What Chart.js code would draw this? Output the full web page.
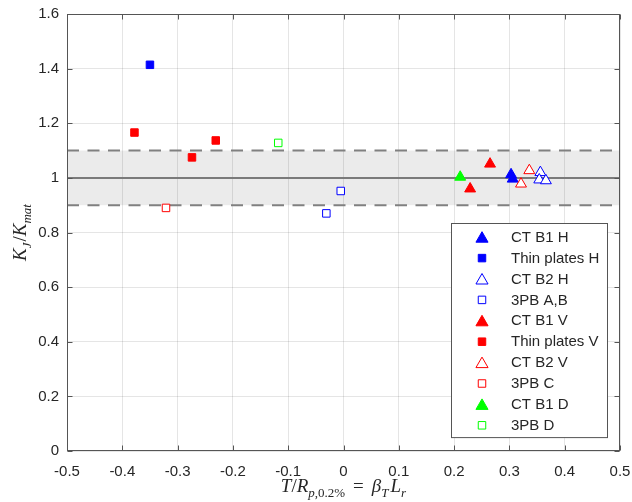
<!DOCTYPE html>
<html>
<head>
<meta charset="utf-8">
<script src="https://cdn.jsdelivr.net/npm/chart.js@4.4.0/dist/chart.umd.min.js"></script>
<style>
  html, body { margin: 0; padding: 0; background: #fff; }
  #wrap { position: relative; width: 632px; height: 502px; }
</style>
</head>
<body>
<div id="wrap"><canvas id="chart" width="632" height="502"></canvas></div>
<script>
// axis ticks
const xTicks = [-0.5, -0.4, -0.3, -0.2, -0.1, 0, 0.1, 0.2, 0.3, 0.4, 0.5];
const yTicks = [0, 0.2, 0.4, 0.6, 0.8, 1, 1.2, 1.4, 1.6];

// +/-10% band around 1
const bandLow = 0.9;
const bandHigh = 1.1;
const refValue = 1;

// series (T/Rp0.2 , KJ/Kmat)
const ctB1H_x = [0.303, 0.306];
const ctB1H_y = [1.012, 0.996];
const thinH_x = [-0.350];
const thinH_y = [1.414];
const ctB2H_x = [0.356, 0.354, 0.366];
const ctB2H_y = [1.020, 0.993, 0.990];
const pbAB_x = [-0.005, -0.031];
const pbAB_y = [0.952, 0.870];
const ctB1V_x = [0.265, 0.229];
const ctB1V_y = [1.051, 0.960];
const thinV_x = [-0.378, -0.274, -0.231];
const thinV_y = [1.166, 1.075, 1.137];
const ctB2V_x = [0.336, 0.321];
const ctB2V_y = [1.027, 0.978];
const pbC_x = [-0.321];
const pbC_y = [0.890];
const ctB1D_x = [0.211];
const ctB1D_y = [1.003];
const pbD_x = [-0.118];
const pbD_y = [1.128];

const seriesNames = ['CT B1 H', 'Thin plates H', 'CT B2 H', '3PB A,B', 'CT B1 V',
  'Thin plates V', 'CT B2 V', '3PB C', 'CT B1 D', '3PB D'];
const seriesX = [ctB1H_x, thinH_x, ctB2H_x, pbAB_x, ctB1V_x, thinV_x, ctB2V_x, pbC_x, ctB1D_x, pbD_x];
const seriesY = [ctB1H_y, thinH_y, ctB2H_y, pbAB_y, ctB1V_y, thinV_y, ctB2V_y, pbC_y, ctB1D_y, pbD_y];

// marker styles
const colors = ['#0000ff', '#0000ff', '#0000ff', '#0000ff', '#ff0000', '#ff0000', '#ff0000', '#ff0000', '#00ff00', '#00ff00'];
const shapes = ['triangle', 'rect', 'triangle', 'rect', 'triangle', 'rect', 'triangle', 'rect', 'triangle', 'rect'];
const filled = [true, true, false, false, true, true, false, false, true, false];

const AXIS = '#555555';
const TEXT = '#262626';

Chart.defaults.font.family = "'Liberation Sans', Arial, sans-serif";
Chart.defaults.font.size = 15;
Chart.defaults.color = TEXT;

const datasets = seriesNames.map((name, i) => ({
  label: name,
  data: seriesX[i].map((x, j) => ({ x: x, y: seriesY[i][j] })),
  pointStyle: shapes[i],
  pointRadius: shapes[i] === 'triangle' ? 6.3 : 5.3,
  borderColor: colors[i],
  backgroundColor: filled[i] ? colors[i] : '#ffffff',
  borderWidth: 1,
  order: -i
}));

function markerPath(ctx, shape, x, y, r) {
  ctx.beginPath();
  if (shape === 'triangle') {
    ctx.moveTo(x, y - r);
    ctx.lineTo(x + r * 0.866, y + r / 2);
    ctx.lineTo(x - r * 0.866, y + r / 2);
    ctx.closePath();
  } else {
    const s = r * Math.SQRT1_2;
    ctx.rect(x - s, y - s, 2 * s, 2 * s);
  }
}

function drawMath(ctx, segs, size, cx, baseY) {
  const fontOf = s => (s.it ? 'italic ' : '') + (s.sub ? Math.round(size * 0.7) : size) +
    'px "Liberation Serif", "DejaVu Serif", serif';
  let total = 0;
  segs.forEach(s => {
    ctx.font = fontOf(s);
    s.w = (s.t ? ctx.measureText(s.t).width : 0) + (s.gap || 0);
    total += s.w;
  });
  let x = cx - total / 2;
  ctx.textAlign = 'left';
  ctx.textBaseline = 'alphabetic';
  segs.forEach(s => {
    ctx.font = fontOf(s);
    if (s.t) ctx.fillText(s.t, x, baseY + (s.sub ? size * 0.28 : 0));
    x += s.w;
  });
}

const decorPlugin = {
  id: 'decor',
  beforeDraw(chart) {
    const ctx = chart.ctx, ca = chart.chartArea, ys = chart.scales.y;
    ctx.save();
    ctx.fillStyle = '#ebebeb';
    const t = ys.getPixelForValue(bandHigh), b = ys.getPixelForValue(bandLow);
    ctx.fillRect(ca.left, t, ca.right - ca.left, b - t);
    ctx.restore();
  },
  beforeDatasetsDraw(chart) {
    const ctx = chart.ctx, ca = chart.chartArea, ys = chart.scales.y;
    ctx.save();
    ctx.strokeStyle = '#808080';
    ctx.lineWidth = 2;
    ctx.setLineDash([12, 8.5]);
    [bandLow, bandHigh].forEach(v => {
      const py = ys.getPixelForValue(v);
      ctx.beginPath(); ctx.moveTo(ca.left, py); ctx.lineTo(ca.right, py); ctx.stroke();
    });
    ctx.setLineDash([]);
    ctx.strokeStyle = '#7a7a7a';
    const py = ys.getPixelForValue(refValue);
    ctx.beginPath(); ctx.moveTo(ca.left, py); ctx.lineTo(ca.right, py); ctx.stroke();
    ctx.restore();
  },
  afterDatasetsDraw(chart) {
    const ctx = chart.ctx, ca = chart.chartArea, xs = chart.scales.x, ys = chart.scales.y;
    ctx.save();
    // box and inward ticks
    ctx.strokeStyle = AXIS;
    ctx.lineWidth = 1;
    const L = Math.round(ca.left) + 0.5, R = Math.round(ca.right) - 0.5;
    const T = Math.round(ca.top) + 0.5, B = Math.round(ca.bottom) - 0.5;
    ctx.strokeRect(L, T, R - L, B - T);
    ctx.beginPath();
    xTicks.forEach(v => {
      const px = Math.round(xs.getPixelForValue(v)) + 0.5;
      ctx.moveTo(px, B); ctx.lineTo(px, B - 5);
      ctx.moveTo(px, T); ctx.lineTo(px, T + 5);
    });
    yTicks.forEach(v => {
      const py = Math.round(ys.getPixelForValue(v)) + 0.5;
      ctx.moveTo(L, py); ctx.lineTo(L + 5, py);
      ctx.moveTo(R, py); ctx.lineTo(R - 5, py);
    });
    ctx.stroke();

    // legend
    const bw = 156, rowH = 20.9;
    const bh = 13.7 + rowH * (seriesNames.length - 1) + 12.3;
    const bx = Math.round(ca.right - 13 - bw) + 0.5, by = Math.round(ca.bottom - 14 - bh) + 0.5;
    ctx.fillStyle = '#ffffff';
    ctx.fillRect(bx, by, bw, bh);
    ctx.strokeStyle = AXIS;
    ctx.strokeRect(bx, by, bw, bh);
    ctx.font = "15px 'Liberation Sans', Arial, sans-serif";
    ctx.textAlign = 'left';
    ctx.textBaseline = 'middle';
    chart.data.datasets.forEach((ds, i) => {
      const cy = by + 13.7 + i * rowH;
      const mx = bx + 30.5;
      markerPath(ctx, ds.pointStyle, mx, cy + (ds.pointStyle === 'triangle' ? 1.5 : 0), ds.pointStyle === 'triangle' ? 7 : 5.3);
      ctx.fillStyle = ds.backgroundColor;
      ctx.fill();
      ctx.strokeStyle = ds.borderColor;
      ctx.stroke();
      ctx.fillStyle = TEXT;
      ctx.fillText(ds.label, bx + 59.5, cy + 0.5);
    });

    // axis titles
    ctx.fillStyle = TEXT;
    drawMath(ctx, [
      { t: 'T', it: true }, { t: '/' }, { t: 'R', it: true },
      { t: 'p', it: true, sub: true }, { t: ',0.2%', sub: true },
      { t: '', gap: 8 }, { t: '=' }, { t: '', gap: 8 }, { t: 'β', it: true },
      { t: 'T', it: true, sub: true }, { t: '', gap: 2 }, { t: 'L', it: true }, { t: 'r', it: true, sub: true }
    ], 19, (ca.left + ca.right) / 2, 492);

    ctx.save();
    ctx.translate(21, (ca.top + ca.bottom) / 2);
    ctx.rotate(-Math.PI / 2);
    drawMath(ctx, [
      { t: 'K', it: true }, { t: 'J', it: true, sub: true }, { t: '', gap: 1 }, { t: '/' },
      { t: 'K', it: true }, { t: 'mat', it: true, sub: true }
    ], 19, 0, 5);
    ctx.restore();
    ctx.restore();
  }
};

new Chart(document.getElementById('chart'), {
  type: 'scatter',
  data: { datasets: datasets },
  options: {
    responsive: false,
    animation: false,
    layout: { padding: { top: 14, right: 12, left: 0, bottom: 0 } },
    plugins: { legend: { display: false }, tooltip: { enabled: false } },
    scales: {
      x: {
        min: -0.5, max: 0.5,
        afterBuildTicks: s => { s.ticks = xTicks.map(v => ({ value: v })); },
        afterFit: s => { s.height = 51; s.paddingLeft = 0; s.paddingRight = 0; },
        ticks: { padding: 12, color: TEXT, callback: v => String(v), maxRotation: 0, autoSkip: false },
        grid: { color: 'rgba(0,0,0,0.1)', drawTicks: false },
        border: { display: false }
      },
      y: {
        min: 0, max: 1.6,
        afterBuildTicks: s => { s.ticks = yTicks.map(v => ({ value: v })); },
        afterFit: s => { s.width = 67; s.paddingTop = 0; s.paddingBottom = 0; },
        ticks: { padding: 8, color: TEXT, callback: v => String(v), autoSkip: false },
        grid: { color: 'rgba(0,0,0,0.1)', drawTicks: false },
        border: { display: false }
      }
    }
  },
  plugins: [decorPlugin]
});
</script>
</body>
</html>
